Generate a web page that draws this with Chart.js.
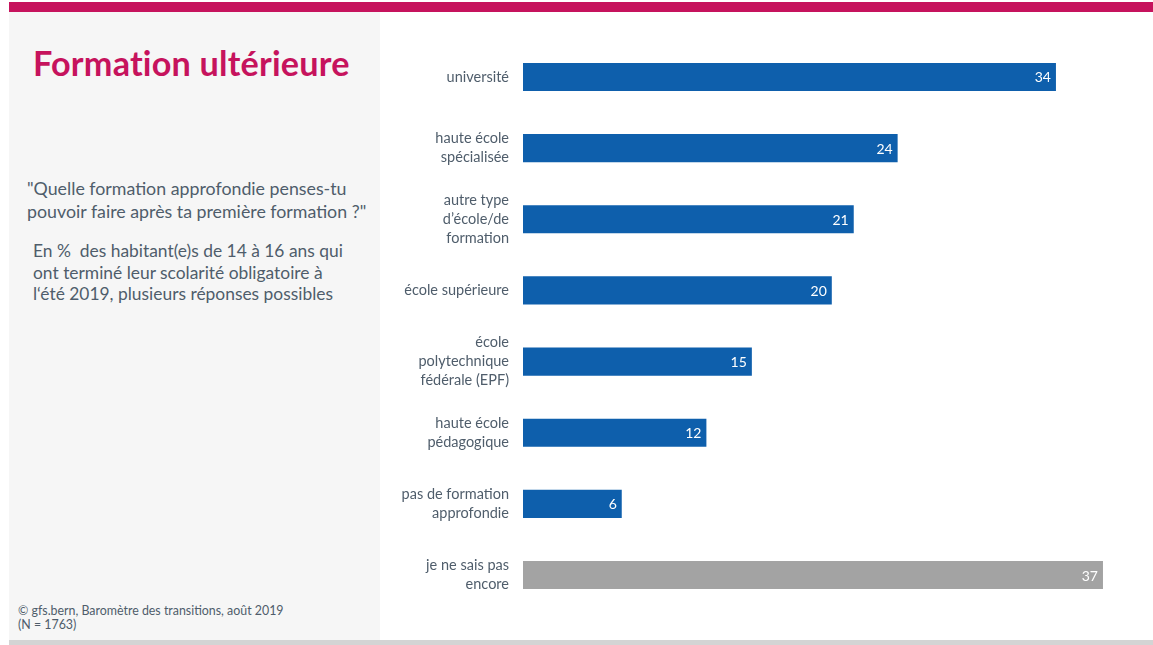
<!DOCTYPE html>
<html>
<head>
<meta charset="utf-8">
<script src="https://cdn.jsdelivr.net/npm/chart.js@4"></script>
<style>
  body { margin: 0; width: 1153px; height: 645px; background: #fff; position: relative; overflow: hidden; font-family: Lato, "Open Sans", sans-serif; }
  .topbar { position: absolute; left: 9px; top: 2px; width: 1144px; height: 10px; background: #c6135d; }
  .bottombar { position: absolute; left: 9px; top: 640px; width: 1144px; height: 5px; background: #d4d4d4; }
  .panel { position: absolute; left: 9px; top: 12px; width: 371px; height: 628px; background: #f6f6f6; }
  h1 { position: absolute; left: 33px; top: 42px; margin: 0; font-size: 34.2px; font-weight: 700; color: #c6135d; letter-spacing: 0.2px; }
  .question { position: absolute; left: 27px; top: 177px; margin: 0; font-size: 17.8px; line-height: 23px; color: #4f5d6b; }
  .base { position: absolute; left: 33px; top: 240px; margin: 0; font-size: 17.4px; line-height: 21.5px; color: #4f5d6b; }
  .source { position: absolute; left: 18px; top: 604px; margin: 0; font-size: 12.4px; line-height: 14px; color: #4f5d6b; }
  .chart { position: absolute; left: 381px; top: 12px; width: 772px; height: 628px; }
</style>
</head>
<body>
<div class="topbar"></div>
<div class="panel"></div>
<div class="bottombar"></div>
<h1>Formation ultérieure</h1>
<p class="question">"Quelle formation approfondie penses-tu<br>pouvoir faire après ta première formation ?"</p>
<p class="base">En %&nbsp; des habitant(e)s de 14 à 16 ans qui<br>ont terminé leur scolarité obligatoire à<br>l‘été 2019, plusieurs réponses possibles</p>
<p class="source">© gfs.bern, Baromètre des transitions, août 2019<br>(N = 1763)</p>
<div class="chart"><canvas id="formationChart"></canvas></div>

<script>
// data (bar lengths are unrounded, labels show rounded %)

const categories = [
    'université',
    ['haute école', 'spécialisée'],
    ['autre type', 'd’école/de', 'formation'],
    'école supérieure',
    ['école', 'polytechnique', 'fédérale (EPF)'],
    ['haute école', 'pédagogique'],
    ['pas de formation', 'approfondie'],
    ['je ne sais pas', 'encore'],
];

const percentages = [34, 23.9, 21.1, 19.7, 14.6, 11.7, 6.3, 37];

const valueTexts = ['34', '24', '21', '20', '15', '12', '6', '37'];

const barColors = ['#0e5fac', '#0e5fac', '#0e5fac', '#0e5fac', '#0e5fac', '#0e5fac', '#0e5fac', '#a3a3a3'];


// value labels inside the end of each bar
const valueLabels = {
    id: 'valueLabels',
    afterDatasetsDraw(chart) {
        const ctx = chart.ctx;
        const meta = chart.getDatasetMeta(0);
        ctx.save();
        ctx.font = '14px Lato, "Open Sans", sans-serif';
        ctx.fillStyle = '#ffffff';
        ctx.textAlign = 'right';
        ctx.textBaseline = 'middle';
        meta.data.forEach((bar, i) => {
            ctx.fillText(valueTexts[i], bar.x - 5, bar.y + 1);
        });
        ctx.restore();
    }
};

const formationChart = document.getElementById('formationChart');

const chart = new Chart(formationChart, {
    type: 'bar',
    data: {
        labels: categories,
        datasets: [{
            label: 'Formation ultérieure',
            data: percentages,
            backgroundColor: barColors,
            borderWidth: 0,
            categoryPercentage: 0.79,
            barPercentage: 0.5,
        }],
    },
    options: {
        indexAxis: 'y',
        responsive: true,
        maintainAspectRatio: false,
        animation: false,
        layout: {
            padding: { top: 29.4, bottom: 29.4, left: 0, right: 3 },
        },
        plugins: {
            legend: { display: false },
            tooltip: { enabled: false },
        },
        scales: {
            x: {
                display: false,
                min: 0,
                max: 40,
            },
            y: {
                grid: { display: false, drawTicks: false },
                border: { display: false },
                ticks: {
                    color: '#4f5d6b',
                    font: { family: 'Lato, "Open Sans", sans-serif', size: 14.5, lineHeight: 1.3 },
                    padding: 14,
                },
                afterFit(scale) {
                    scale.width = 142;
                    scale.paddingTop = 0;
                    scale.paddingBottom = 0;
                },
            },
        },
    },
    plugins: [valueLabels],
})
</script>
</body>
</html>
